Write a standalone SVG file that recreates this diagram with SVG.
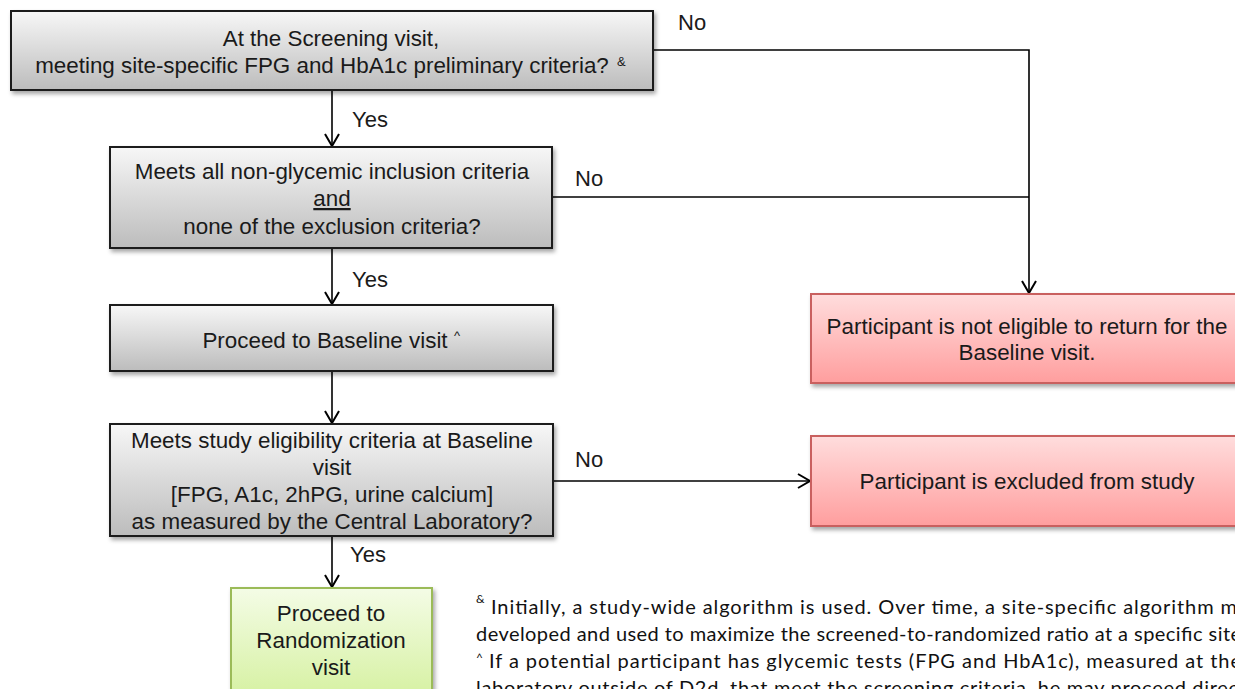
<svg xmlns="http://www.w3.org/2000/svg" width="1235" height="689" viewBox="0 0 1235 689">
<style>
.t{font-family:"Liberation Sans",Arial,sans-serif;font-size:22.4px;fill:#1a1a1a;text-anchor:middle}
.lbl{font-family:"Liberation Sans",Arial,sans-serif;font-size:22px;fill:#1a1a1a}
.fn{font-family:Lato,"Open Sans",sans-serif;font-size:20px;fill:#111}
.sup{font-family:Lato,"Open Sans",sans-serif;font-size:12px;fill:#111}
.bsup{font-family:"Liberation Sans",Arial,sans-serif;font-size:13px;fill:#1a1a1a}
.gray{fill:url(#gGray);stroke:#1e1e1e;stroke-width:2}
.red{fill:url(#gRed);stroke:#c9605e;stroke-width:2}
.green{fill:url(#gGreen);stroke:#9bbb59;stroke-width:2}
.c{fill:none;stroke:#000;stroke-width:1.6}
</style>
<defs>
<linearGradient id="gGray" x1="0" y1="0" x2="0" y2="1"><stop offset="0" stop-color="#f7f7f7"/><stop offset="1" stop-color="#bcbcbc"/></linearGradient>
<linearGradient id="gRed" x1="0" y1="0" x2="0" y2="1"><stop offset="0" stop-color="#ffdddd"/><stop offset="1" stop-color="#ff9e9e"/></linearGradient>
<linearGradient id="gGreen" x1="0" y1="0" x2="0" y2="1"><stop offset="0" stop-color="#f4fce6"/><stop offset="1" stop-color="#d3f09b"/></linearGradient>
<filter id="sh" x="-5%" y="-10%" width="115%" height="130%"><feDropShadow dx="2" dy="3" stdDeviation="2" flood-color="#000" flood-opacity="0.35"/></filter>
<marker id="arr" markerUnits="userSpaceOnUse" markerWidth="20" markerHeight="20" viewBox="0 0 20 20" refX="16" refY="10" orient="auto"><path d="M4,3 L16,10 L4,17" fill="none" stroke="#000" stroke-width="2"/></marker>
</defs>

<g id="connectors">
<path class="c" d="M332,90 V146" marker-end="url(#arr)"/>
<path class="c" d="M653,50 H1029 V293" marker-end="url(#arr)"/>
<path class="c" d="M552,197 H1029"/>
<path class="c" d="M332,248 V304" marker-end="url(#arr)"/>
<path class="c" d="M332,371 V423" marker-end="url(#arr)"/>
<path class="c" d="M553,481 H810" marker-end="url(#arr)"/>
<path class="c" d="M332,536 V587" marker-end="url(#arr)"/>
<text class="lbl" x="352" y="127">Yes</text>
<text class="lbl" x="678" y="30">No</text>
<text class="lbl" x="575" y="186">No</text>
<text class="lbl" x="352" y="287">Yes</text>
<text class="lbl" x="575" y="467">No</text>
<text class="lbl" x="350" y="562">Yes</text>
</g>

<g id="screening">
<rect class="gray" x="11" y="11" width="642" height="79" filter="url(#sh)"/>
<text class="t" x="331" y="46">At the Screening visit,</text>
<text class="t" x="322" y="73">meeting site-specific FPG and HbA1c preliminary criteria?</text>
<text class="bsup" x="617" y="66">&amp;</text>
</g>

<g id="nonglycemic">
<rect class="gray" x="110" y="147" width="442" height="101" filter="url(#sh)"/>
<text class="t" x="332" y="179">Meets all non-glycemic inclusion criteria</text>
<text class="t" x="332" y="206" text-decoration="underline">and</text>
<text class="t" x="332" y="234">none of the exclusion criteria?</text>
</g>

<g id="baseline">
<rect class="gray" x="110" y="305" width="443" height="66" filter="url(#sh)"/>
<text class="t" x="325" y="348">Proceed to Baseline visit</text>
<text class="bsup" x="454" y="340">^</text>
</g>

<g id="eligibility">
<rect class="gray" x="110" y="424" width="443" height="112" filter="url(#sh)"/>
<text class="t" x="332" y="448">Meets study eligibility criteria at Baseline</text>
<text class="t" x="332" y="475">visit</text>
<text class="t" x="332" y="502">[FPG, A1c, 2hPG, urine calcium]</text>
<text class="t" x="332" y="529">as measured by the Central Laboratory?</text>
</g>

<g id="randomization">
<rect class="green" x="231" y="588" width="201" height="120" filter="url(#sh)"/>
<text class="t" x="331" y="621">Proceed to</text>
<text class="t" x="331" y="648">Randomization</text>
<text class="t" x="331" y="675">visit</text>
</g>

<g id="noteligible">
<rect class="red" x="811" y="294" width="432" height="89" filter="url(#sh)"/>
<text class="t" x="1027" y="334">Participant is not eligible to return for the</text>
<text class="t" x="1027" y="360">Baseline visit.</text>
</g>

<g id="excluded">
<rect class="red" x="811" y="436" width="432" height="90" filter="url(#sh)"/>
<text class="t" x="1027" y="489">Participant is excluded from study</text>
</g>

<g id="footnotes">
<text class="sup" x="476" y="603">&amp;</text>
<text class="fn" x="491" y="614" textLength="746" lengthAdjust="spacing">Initially, a study-wide algorithm is used. Over time, a site-specific algorithm m</text>
<text class="fn" x="476" y="641" textLength="765" lengthAdjust="spacing">developed and used to maximize the screened-to-randomized ratio at a specific site</text>
<text class="sup" x="476" y="662">^</text>
<text class="fn" x="489" y="668" textLength="752" lengthAdjust="spacing">If a potential participant has glycemic tests (FPG and HbA1c), measured at the</text>
<text class="fn" x="476" y="695" textLength="770" lengthAdjust="spacing">laboratory outside of D2d, that meet the screening criteria, he may proceed direct</text>
</g>
</svg>
